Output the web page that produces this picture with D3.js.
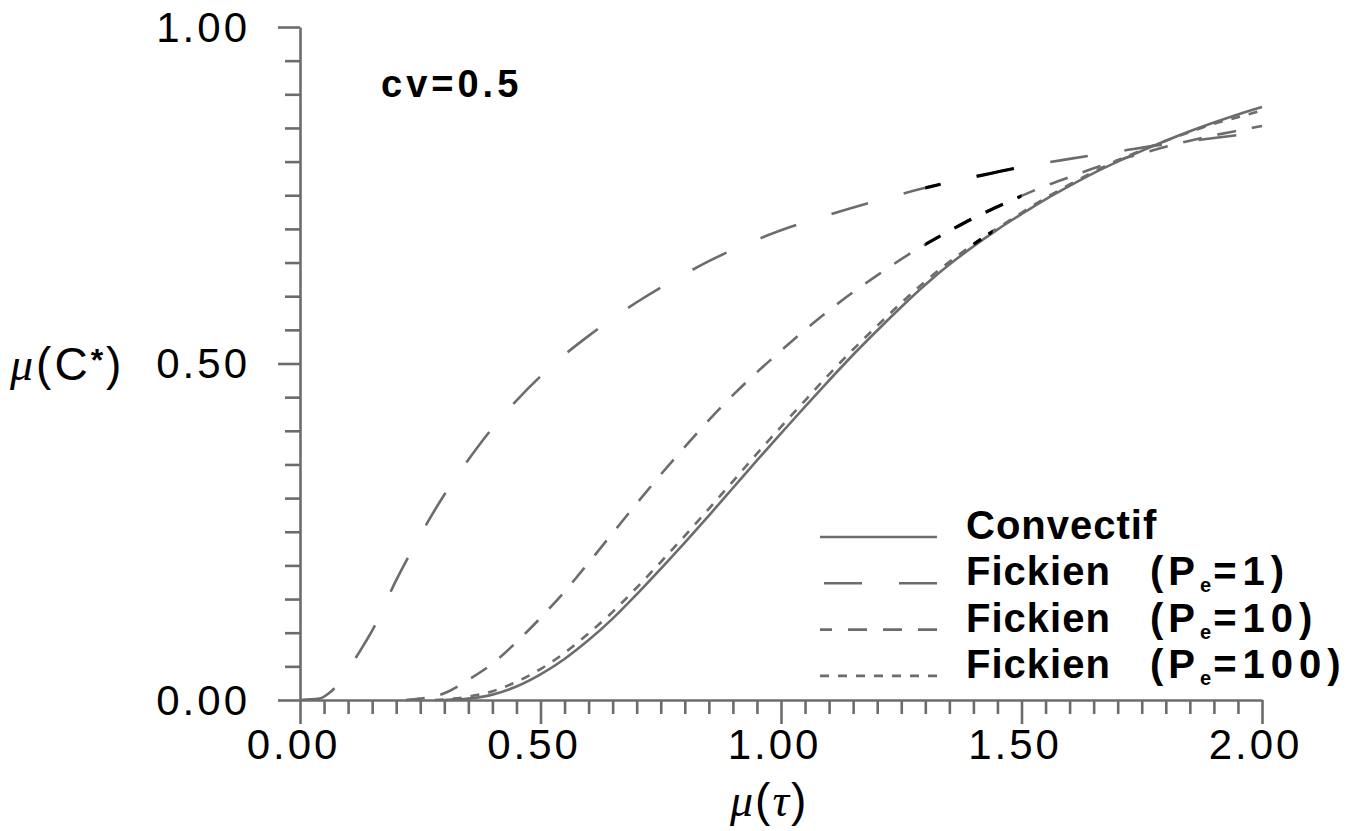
<!DOCTYPE html>
<html>
<head>
<meta charset="utf-8">
<script src="https://cdn.jsdelivr.net/npm/d3@7"></script>
<style>
  html, body { margin: 0; padding: 0; background: #fff; }
  svg { display: block; }
</style>
</head>
<body>
<svg id="chart" width="1358" height="831"></svg>
<script>
// Mean breakthrough concentration μ(C*) versus mean time μ(τ), cv = 0.5

// Convective model
const convectifTau = [0.30, 0.35, 0.40, 0.45, 0.50, 0.55, 0.60, 0.65, 0.70, 0.75,
                      0.80, 0.85, 0.90, 0.95, 1.00, 1.05, 1.10, 1.15, 1.20, 1.25,
                      1.30, 1.35, 1.40, 1.45, 1.50, 1.55, 1.60, 1.65, 1.70, 1.75,
                      1.80, 1.85, 1.90, 1.95, 2.00];
const convectifC   = [0.000, 0.002, 0.008, 0.020, 0.038, 0.061, 0.089, 0.121, 0.157, 0.195,
                      0.234, 0.274, 0.315, 0.356, 0.396, 0.436, 0.475, 0.513, 0.549, 0.584,
                      0.617, 0.647, 0.674, 0.699, 0.722, 0.744, 0.764, 0.783, 0.800, 0.816,
                      0.831, 0.845, 0.858, 0.870, 0.881];

// Fickian model, Pe = 1
const fick1Tau = [0.00, 0.04, 0.06, 0.08, 0.10, 0.125, 0.15, 0.20, 0.25, 0.30,
                  0.35, 0.40, 0.45, 0.50, 0.55, 0.60, 0.65, 0.70, 0.75, 0.80,
                  0.85, 0.90, 0.95, 1.00, 1.10, 1.20, 1.30, 1.40, 1.50, 1.60,
                  1.70, 1.80, 1.90, 2.00];
const fick1C   = [0.000, 0.002, 0.010, 0.024, 0.045, 0.073, 0.103, 0.178, 0.245, 0.305,
                  0.357, 0.404, 0.445, 0.481, 0.513, 0.541, 0.567, 0.591, 0.613, 0.633,
                  0.652, 0.669, 0.684, 0.698, 0.721, 0.742, 0.761, 0.777, 0.792, 0.804,
                  0.815, 0.826, 0.835, 0.844];

// Fickian model, Pe = 10
const fick10Tau = [0.22, 0.25, 0.30, 0.35, 0.40, 0.45, 0.50, 0.55, 0.60, 0.65,
                   0.70, 0.75, 0.80, 0.85, 0.90, 0.95, 1.00, 1.05, 1.10, 1.15,
                   1.20, 1.25, 1.30, 1.35, 1.40, 1.45, 1.50, 1.55, 1.60, 1.65,
                   1.70, 1.75, 1.80, 1.85, 1.90, 1.95, 2.00];
const fick10C   = [0.000, 0.002, 0.010, 0.030, 0.054, 0.086, 0.122, 0.161, 0.204, 0.248,
                   0.292, 0.335, 0.376, 0.416, 0.453, 0.487, 0.519, 0.550, 0.579, 0.606,
                   0.631, 0.655, 0.677, 0.697, 0.716, 0.733, 0.749, 0.764, 0.777, 0.790,
                   0.802, 0.812, 0.822, 0.831, 0.839, 0.846, 0.853];

// Fickian model, Pe = 100
const fick100Tau = [0.28, 0.32, 0.35, 0.40, 0.45, 0.50, 0.55, 0.60, 0.65, 0.70,
                    0.75, 0.80, 0.85, 0.90, 0.95, 1.00, 1.05, 1.10, 1.15, 1.20,
                    1.25, 1.30, 1.35, 1.40, 1.45, 1.50, 1.55, 1.60, 1.65, 1.70,
                    1.75, 1.80, 1.85, 1.90, 1.95, 2.00];
const fick100C   = [0.000, 0.002, 0.005, 0.013, 0.027, 0.046, 0.070, 0.099, 0.131, 0.167,
                    0.205, 0.244, 0.284, 0.325, 0.366, 0.406, 0.445, 0.484, 0.521, 0.556,
                    0.590, 0.622, 0.651, 0.677, 0.701, 0.724, 0.746, 0.766, 0.785, 0.802,
                    0.817, 0.831, 0.844, 0.856, 0.866, 0.876];

// Legend entries: model name and Péclet number (null for convective)
const legendNames   = ["Convectif", "Fickien", "Fickien", "Fickien"];
const legendPeclet  = [null, "1", "10", "100"];

// Axis ticks
const xMajorTicks = [0, 0.5, 1.0, 1.5, 2.0];
const yMajorTicks = [0, 0.5, 1.0];
const minorStep = 0.05;
const annotation = "cv=0.5";

// ---------------------------------------------------------------------------
const grey = "#6c6c6c";
const sans = "'Liberation Sans', Arial, Helvetica, sans-serif";
const serif = "'Liberation Serif', 'DejaVu Serif', serif";

const svg = d3.select("#chart");
const x = d3.scaleLinear().domain([0, 2]).range([300, 1262]);
const y = d3.scaleLinear().domain([0, 1]).range([700, 27]);

const isMajor = (v, majors) => majors.some(m => Math.abs(m - v) < 1e-6);
const xMinor = d3.range(0, 2 + 1e-9, minorStep).map(v => +v.toFixed(2)).filter(v => !isMajor(v, xMajorTicks));
const yMinor = d3.range(0, 1 + 1e-9, minorStep).map(v => +v.toFixed(2)).filter(v => !isMajor(v, yMajorTicks));

function styleAxis(g) {
  g.selectAll("path.domain").attr("stroke", grey).attr("stroke-width", 2.6);
  g.selectAll(".tick line").attr("stroke", grey).attr("stroke-width", 2.6);
  g.selectAll(".tick text")
    .attr("fill", "#000")
    .style("font-family", sans)
    .style("font-size", "42px")
    .style("letter-spacing", "3px");
}

// x axis: minor then major ticks
const gxMinor = svg.append("g").attr("transform", `translate(0,${y(0)})`)
  .call(d3.axisBottom(x).tickValues(xMinor).tickSize(14).tickSizeOuter(0).tickFormat(""));
gxMinor.select("path.domain").remove();
styleAxis(gxMinor);

const gx = svg.append("g").attr("transform", `translate(0,${y(0)})`)
  .call(d3.axisBottom(x).tickValues(xMajorTicks).tickSize(24).tickSizeOuter(0).tickFormat(d3.format(".2f")));
styleAxis(gx);
gx.selectAll(".tick text").attr("y", 59).attr("dy", 0).attr("dx", -7);

// y axis: minor then major ticks
const gyMinor = svg.append("g").attr("transform", `translate(${x(0)},0)`)
  .call(d3.axisLeft(y).tickValues(yMinor).tickSize(15).tickSizeOuter(0).tickFormat(""));
gyMinor.select("path.domain").remove();
styleAxis(gyMinor);

const gy = svg.append("g").attr("transform", `translate(${x(0)},0)`)
  .call(d3.axisLeft(y).tickValues(yMajorTicks).tickSize(22).tickSizeOuter(0).tickFormat(d3.format(".2f")));
styleAxis(gy);
gy.selectAll(".tick text").attr("x", -50).attr("dy", 14);

// ---------------------------------------------------------------------------
// Curves
const line = d3.line()
  .x(d => x(d[0]))
  .y(d => y(d[1]))
  .curve(d3.curveMonotoneX);

const series = [
  { tau: convectifTau, c: convectifC, dash: null },
  { tau: fick1Tau,     c: fick1C,     dash: "38,37" },
  { tau: fick10Tau,    c: fick10C,    dash: "19,16" },
  { tau: fick100Tau,   c: fick100C,   dash: "9,9" }
];

// Stretches where the pen left darker strokes
const inkRanges = [null, [1.30, 1.55], [1.30, 1.50], [1.39, 1.44]];

const defs = svg.append("defs");
const curves = svg.append("g");

series.forEach((s, i) => {
  const pts = s.tau.map((t, k) => [t, s.c[k]]);
  const d = line(pts);
  const p = curves.append("path")
    .attr("d", d)
    .attr("fill", "none")
    .attr("stroke", grey)
    .attr("stroke-width", 2.6)
    .attr("stroke-linecap", "butt");
  if (s.dash) p.attr("stroke-dasharray", s.dash);

  const r = inkRanges[i];
  if (r) {
    const id = "ink" + i;
    defs.append("clipPath").attr("id", id)
      .append("rect")
      .attr("x", x(r[0])).attr("width", x(r[1]) - x(r[0]))
      .attr("y", y(1)).attr("height", y(0) - y(1));
    const q = curves.append("path")
      .attr("d", d)
      .attr("fill", "none")
      .attr("stroke", "#000")
      .attr("stroke-width", 3.2)
      .attr("clip-path", `url(#${id})`);
    if (s.dash) q.attr("stroke-dasharray", s.dash);
  }
});

// ---------------------------------------------------------------------------
// Annotation
svg.append("text")
  .attr("x", 381).attr("y", 97)
  .style("font-family", sans)
  .style("font-size", "38px")
  .style("font-weight", "bold")
  .style("letter-spacing", "4px")
  .attr("fill", "#000")
  .text(annotation);

// Axis titles
const xTitle = svg.append("text")
  .attr("x", 730).attr("y", 816)
  .style("font-family", sans)
  .style("font-size", "46px")
  .style("letter-spacing", "2px")
  .attr("fill", "#000");
xTitle.append("tspan").style("font-family", serif).style("font-style", "italic").text("μ");
xTitle.append("tspan").text("(");
xTitle.append("tspan").style("font-family", serif).style("font-style", "italic").text("τ");
xTitle.append("tspan").text(")");

const yTitle = svg.append("text")
  .attr("x", 10).attr("y", 380)
  .style("font-family", sans)
  .style("font-size", "46px")
  .style("letter-spacing", "3px")
  .attr("fill", "#000");
yTitle.append("tspan").style("font-family", serif).style("font-style", "italic").text("μ");
yTitle.append("tspan").text("(C");
yTitle.append("tspan").attr("dy", -9).style("font-size", "32px").style("font-weight", "bold").text("*");
yTitle.append("tspan").attr("dy", 9).text(")");

// ---------------------------------------------------------------------------
// Legend
const legendTop = 537, legendStep = 46.3;
const legend = svg.append("g");
series.forEach((s, i) => {
  const yy = legendTop + i * legendStep;
  const l = legend.append("line")
    .attr("x1", 937).attr("x2", 820)
    .attr("y1", yy).attr("y2", yy)
    .attr("stroke", grey)
    .attr("stroke-width", 2.6);
  if (s.dash) l.attr("stroke-dasharray", s.dash);

  const t = legend.append("text")
    .attr("x", 966).attr("y", yy + 2)
    .style("font-family", sans)
    .style("font-size", "40px")
    .style("font-weight", "bold")
    .style("letter-spacing", "1px")
    .attr("fill", "#000");
  t.append("tspan").text(legendNames[i]);
  if (legendPeclet[i] !== null) {
    t.append("tspan").attr("x", 1150).style("letter-spacing", "5px").text("(P");
    t.append("tspan").attr("dy", 7).style("font-size", "20px").style("letter-spacing", "2px").text("e");
    t.append("tspan").attr("dy", -7).style("letter-spacing", "6px").text("=" + legendPeclet[i] + ")");
  }
});
</script>
</body>
</html>
